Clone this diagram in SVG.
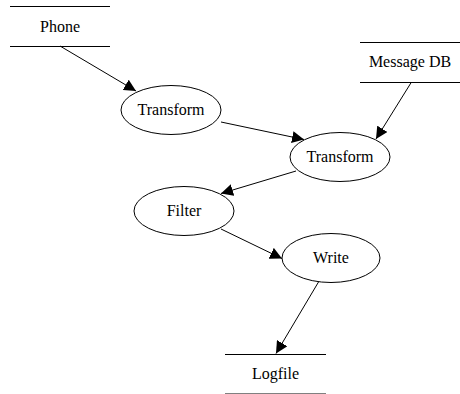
<svg xmlns="http://www.w3.org/2000/svg" width="460" height="394" viewBox="0 0 460 394">
<style>
.n{fill:none;stroke:#000;stroke-width:1}
.t{font-family:'Liberation Serif','DejaVu Serif',serif;font-size:16px;fill:#000;text-anchor:middle}
.e{fill:none;stroke:#000;stroke-width:1;marker-end:url(#ah)}
</style>
<defs>
<marker id="ah" markerUnits="userSpaceOnUse" markerWidth="12" markerHeight="12" viewBox="0 0 10 10" refX="10" refY="5" orient="auto">
<path d="M0,0 L10,5 L0,10 Z" fill="#000"/>
</marker>
</defs>
<g id="connectors">
<path class="e" d="M60,46 L136,91"/>
<path class="e" d="M411.5,82 L376,139"/>
<path class="e" d="M221,122 L304,139.5"/>
<path class="e" d="M296,171 L221,193.5"/>
<path class="e" d="M221,229 L282,258.5"/>
<path class="e" d="M318.5,282 L276,353.5"/>
</g>
<g id="phone">
<line class="n" x1="10" y1="6.5" x2="110" y2="6.5"/>
<line class="n" x1="10" y1="46.5" x2="110" y2="46.5"/>
<text class="t" x="60" y="32" font-family="Liberation Serif, serif">Phone</text>
</g>
<g id="messagedb">
<line class="n" x1="360" y1="42.5" x2="460" y2="42.5"/>
<line class="n" x1="360" y1="82.5" x2="460" y2="82.5"/>
<text class="t" x="410" y="67">Message DB</text>
</g>
<g id="transform1">
<ellipse class="n" cx="171" cy="110" rx="50" ry="24.5"/>
<text class="t" x="171" y="115">Transform</text>
</g>
<g id="transform2">
<ellipse class="n" cx="340" cy="157" rx="50" ry="24.5"/>
<text class="t" x="340" y="162">Transform</text>
</g>
<g id="filter">
<ellipse class="n" cx="184" cy="211" rx="50" ry="24.5"/>
<text class="t" x="184" y="216">Filter</text>
</g>
<g id="write">
<ellipse class="n" cx="331" cy="258" rx="49" ry="24.5"/>
<text class="t" x="331" y="263">Write</text>
</g>
<g id="logfile">
<line class="n" x1="225" y1="354.5" x2="326" y2="354.5"/>
<line class="n" x1="225" y1="394" x2="326" y2="394"/>
<text class="t" x="275.5" y="379">Logfile</text>
</g>
</svg>
